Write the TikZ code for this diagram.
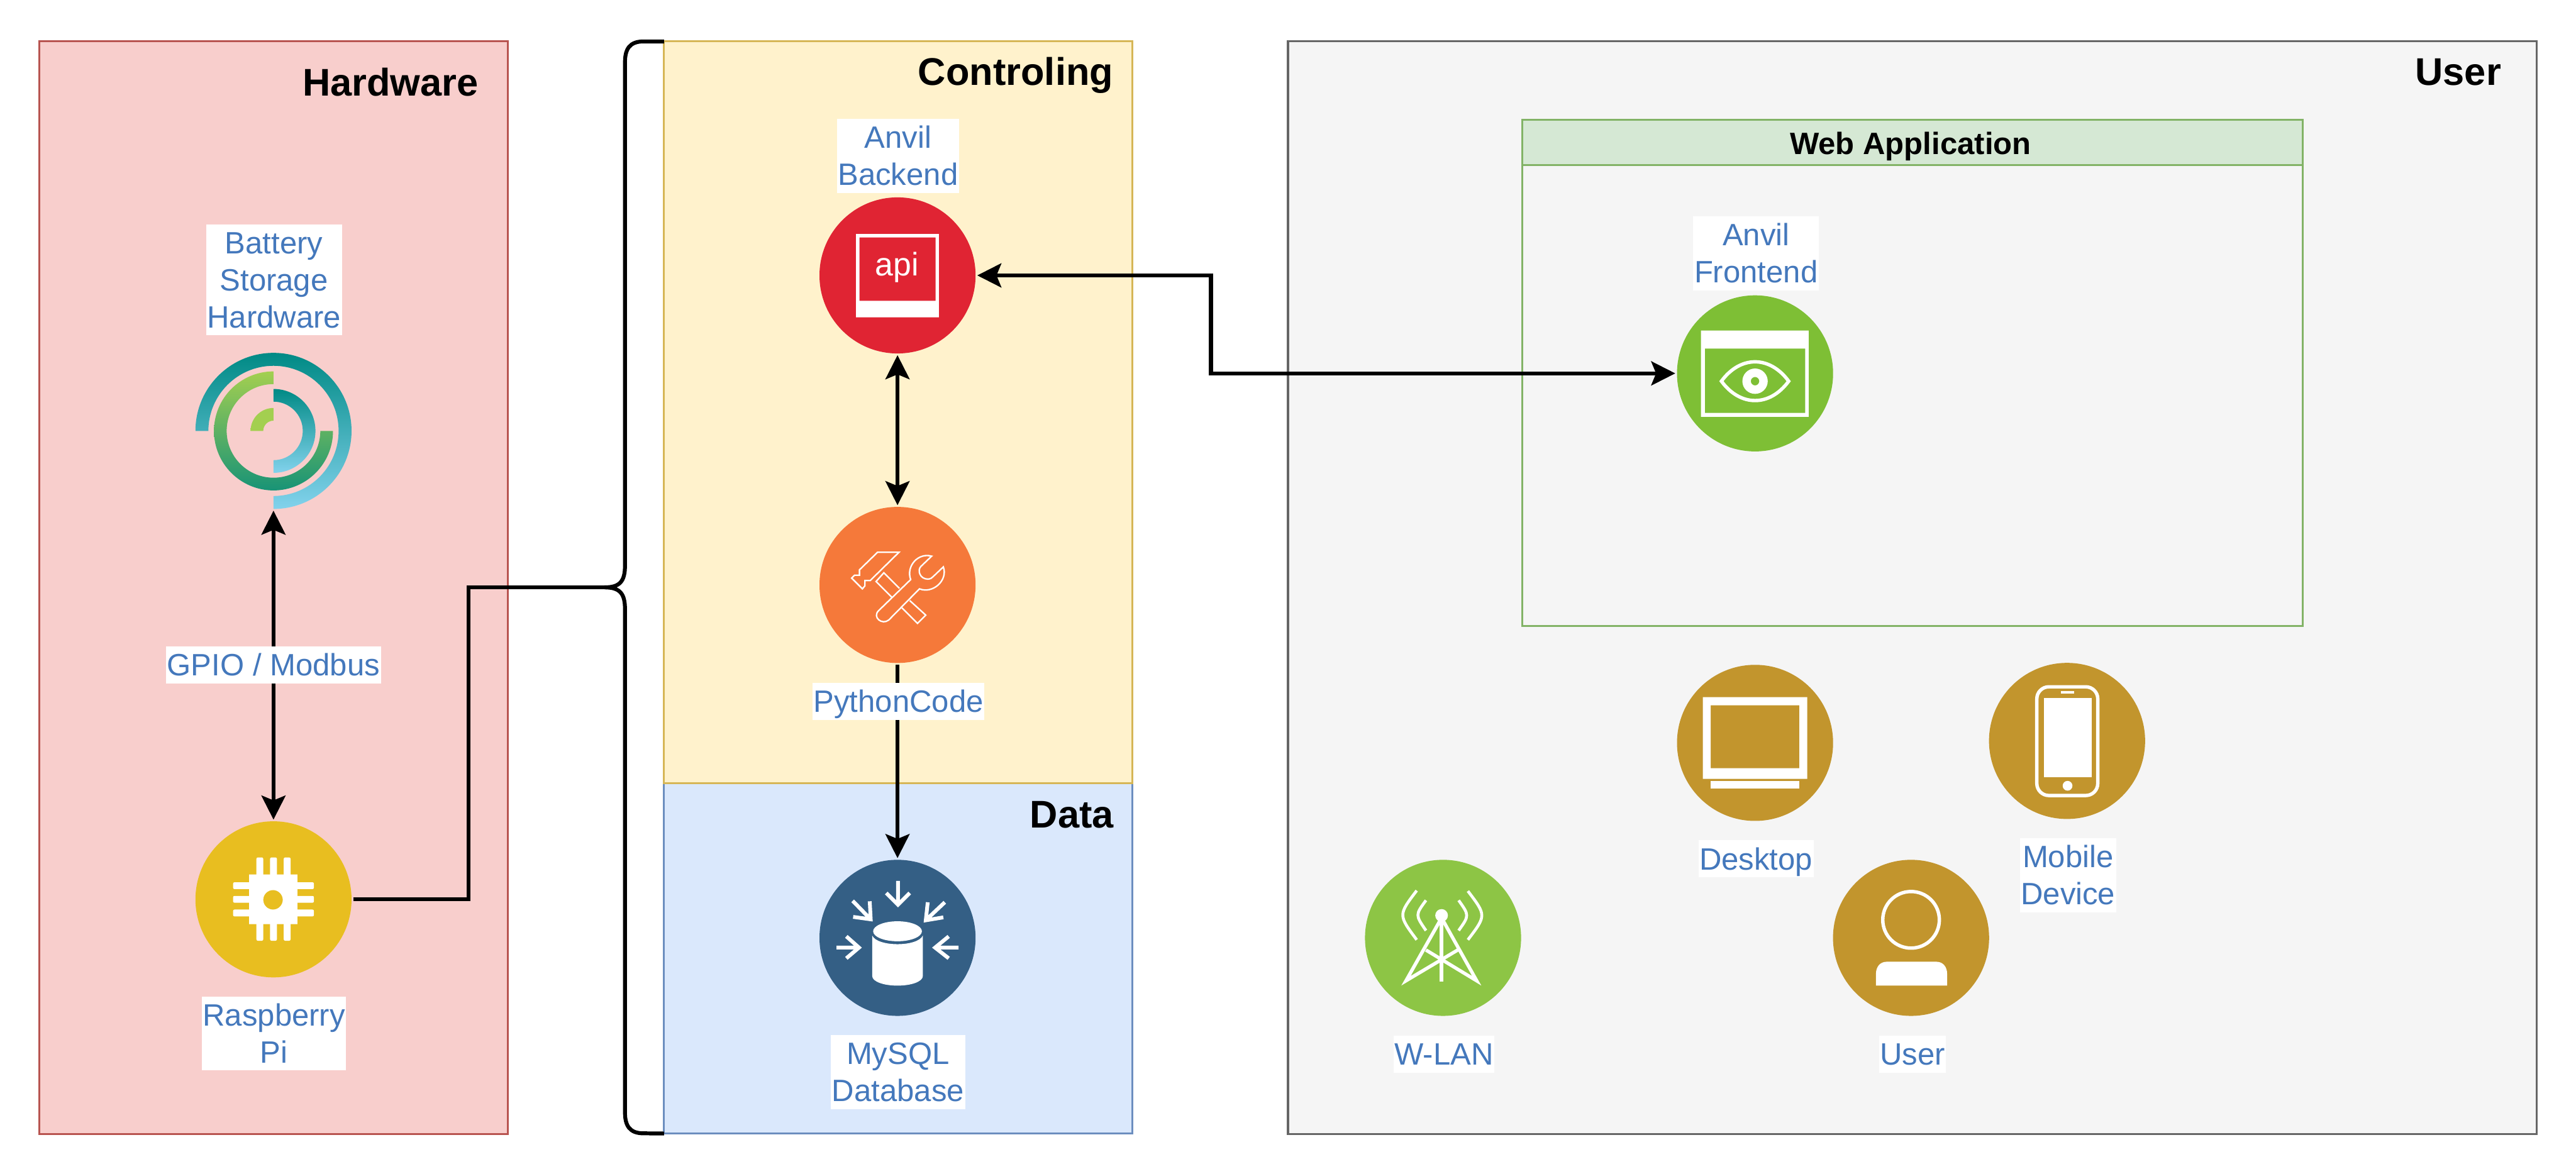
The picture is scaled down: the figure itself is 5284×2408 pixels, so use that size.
\documentclass[tikz,border=0pt]{standalone}
\usepackage{fontspec}
\setmainfont{Liberation Sans}
\usepackage{xcolor}
\usetikzlibrary{arrows.meta}

\definecolor{labelblue}{HTML}{4478BC}
\definecolor{hwfill}{HTML}{F8CECC}
\definecolor{hwline}{HTML}{B85450}
\definecolor{ctrlfill}{HTML}{FFF2CC}
\definecolor{ctrlline}{HTML}{D6B656}
\definecolor{datafill}{HTML}{DAE8FC}
\definecolor{dataline}{HTML}{6C8EBF}
\definecolor{userfill}{HTML}{F5F5F5}
\definecolor{userline}{HTML}{666666}
\definecolor{webfill}{HTML}{D5E8D4}
\definecolor{webline}{HTML}{82B366}
\definecolor{backendred}{HTML}{E02433}
\definecolor{pythonorange}{HTML}{F5793A}
\definecolor{mysqlblue}{HTML}{345F85}
\definecolor{piyellow}{HTML}{E8BE20}
\definecolor{frontgreen}{HTML}{7EBF35}
\definecolor{wlangreen}{HTML}{8DC545}
\definecolor{devicegold}{HTML}{C2952D}
\definecolor{ringteal}{HTML}{008A85}
\definecolor{ringsky}{HTML}{82D2EC}
\definecolor{ringlime}{HTML}{A3CF50}
\definecolor{ringdeep}{HTML}{189376}

\tikzset{
	panel/.style={draw, line width=1.14pt, anchor=north west, inner sep=0pt, outer sep=0pt},
	panelname/.style={anchor=east, inner sep=0pt, font=\fontsize{22.5}{27}\selectfont\bfseries},
	iconcircle/.style={circle, minimum size=3.2cm, inner sep=0pt, outer sep=1pt},
	iconlabel/.style={fill=white, text=labelblue, align=center, inner ysep=0pt, inner xsep=0.6pt, font=\fontsize{18}{21.6}\selectfont, execute at end node={\rule[-4.5pt]{0pt}{4.5pt}}},
	wire/.style={line width=2.28pt},
	biarrow/.style={wire, {Stealth[length=14pt, width=14pt, inset=2.8pt]}-{Stealth[length=14pt, width=14pt, inset=2.8pt]}},
	onearrow/.style={wire, -{Stealth[length=14pt, width=14pt, inset=2.8pt]}},
	thinwhite/.style={draw=white, line width=0.85pt, miter limit=6},
	midwhite/.style={draw=white, line width=2pt},
	dbarrow/.style={draw=white, line width=2.2pt}
}

% one shaded piece of the battery ring: start, end, outer radius, inner radius, colours
\newcommand{\ringpart}[6]{
	\path[top color=#5, bottom color=#6] (#1:#3) arc[start angle=#1, end angle=#2, radius=#3] -- (#2:#4) arc[start angle=#2, end angle=#1, radius=#4] -- cycle;
}
% room above the first line of a label
\newcommand{\labeltop}{\rule{0pt}{17.1pt}}

\begin{document}
\begin{tikzpicture}[x=0.01cm, y=-0.01cm]
	\useasboundingbox (0,0) rectangle (5284,2408);
	\fill[white] (0,0) rectangle (5284,2408);

	% Panels:
	\node[panel, fill=hwfill, draw=hwline, minimum width=9.6cm, minimum height=22.4cm](hardware) at (81,85){};
	\node[panel, fill=datafill, draw=dataline, minimum width=9.6cm, minimum height=7.19cm](data) at (1362,1606){};
	\node[panel, fill=ctrlfill, draw=ctrlline, minimum width=9.6cm, minimum height=15.21cm](controling) at (1362,85){};
	\node[panel, fill=userfill, draw=userline, minimum width=25.6cm, minimum height=22.4cm](user) at (2642,85){};
	\node[panel, draw=webline, minimum width=16cm, minimum height=10.38cm](webapp) at (3122,246){};
	\node[panel, fill=webfill, draw=webline, minimum width=16cm, minimum height=0.92cm](webhead) at (3122,246){};

	\node[panelname](hardwarename) at (982,168){Hardware};
	\node[panelname](controlingname) at (2284,155){Controling};
	\node[panelname](dataname) at (2285,1671){Data};
	\node[panelname](username) at (5131,148){User};
	\node[inner sep=0pt, font=\fontsize{18}{21.6}\selectfont\bfseries](webname) at (3919,300){Web Application};

	% Icon circles:
	\node[iconcircle](battery) at (561,884){};
	\node[iconcircle, fill=piyellow](pi) at (561,1845){};
	\node[iconcircle, fill=backendred](backend) at (1841,565){};
	\node[iconcircle, fill=pythonorange](python) at (1841,1200){};
	\node[iconcircle, fill=mysqlblue](mysql) at (1841,1924){};
	\node[iconcircle, fill=frontgreen](frontend) at (3600,766){};
	\node[iconcircle, fill=devicegold](desktop) at (3600,1524){};
	\node[iconcircle, fill=devicegold](mobile) at (4240,1520){};
	\node[iconcircle, fill=devicegold](person) at (3920,1924){};
	\node[iconcircle, fill=wlangreen](wlan) at (2960,1924){};

	% Battery rings
	\begin{scope}[shift={(battery.center)}]
		\ringpart{180}{-90}{1.6cm}{1.335cm}{ringteal}{ringsky}
		\ringpart{90}{360}{1.22cm}{0.96cm}{ringlime}{ringdeep}
		\ringpart{90}{-90}{0.86cm}{0.6cm}{ringteal}{ringsky}
		\ringpart{90}{180}{0.47cm}{0.21cm}{ringlime}{ringlime}
	\end{scope}

	% Chip
	\begin{scope}[shift={(pi.center)}]
		\fill[white, even odd rule] (-50,-51) rectangle (49,51) (-1,1) circle[radius=0.2cm];
		\foreach \p in {-28,0,28}{
			\fill[white, rounded corners=0.85pt] (\p-7,-86) rectangle (\p+7,-45);
			\fill[white, rounded corners=0.85pt] (\p-7,45) rectangle (\p+7,85);
			\fill[white, rounded corners=0.85pt] (-83,\p-7) rectangle (-45,\p+7);
			\fill[white, rounded corners=0.85pt] (45,\p-7) rectangle (83,\p+7);
		}
	\end{scope}

	% Api sheet
	\begin{scope}[shift={(backend.center)}]
		\fill[white, even odd rule] (-85,-85) rectangle (85,86) (-78,-78) rectangle (78,52);
		\node[text=white, inner sep=0pt, font=\fontsize{19}{22}\selectfont](apiname) at (-1,-17){api};
	\end{scope}

	% Hammer and wrench
	\begin{scope}[shift={(python.center)}]
		\path[thinwhite] (-41,-67) -- (3,-67) -- (-56,-9) -- (-67,-9) -- (-67,2) -- (-72,8) -- (-94,-14) -- (-88,-20) -- (-78,-20) -- (-78,-31) -- cycle;
		\path[thinwhite] (4,7) -- (-28,-25) -- (-44,-7) -- (-12,25);
		\path[thinwhite] (25,32) -- (58,62) -- (41,79) -- (9,47);
		\path[thinwhite] (27,-11) .. controls (17,-38) and (42,-67) .. (70,-59) -- (48,-38) .. controls (40,-30) and (46,-12) .. (62,-12) .. controls (68,-12) and (71,-15) .. (73,-17) -- (94,-37) .. controls (104,-10) and (73,19) .. (45,8) -- (-18,72) .. controls (-32,83) and (-52,66) .. (-39,53) -- cycle;
	\end{scope}

	% Database
	\begin{scope}[shift={(mysql.center)}]
		\fill[white] (0,-13.5) ellipse[x radius=0.5cm, y radius=0.205cm];
		\fill[white] (-52,-5) .. controls (-42,19) and (42,19) .. (52,-5) -- (52,78) .. controls (52,90) and (28,98) .. (0,98) .. controls (-28,98) and (-52,90) .. (-52,78) -- cycle;
		\path[dbarrow] (1,-117) -- (1,-70) (-23,-92) -- (1,-68) -- (25,-92);
		\path[dbarrow] (-92,-76) -- (-58,-41) (-91,-43) -- (-55,-38) -- (-57,-75);
		\path[dbarrow] (97,-73) -- (61,-39) (94,-42) -- (58,-36) -- (62,-73);
		\path[dbarrow] (-125,20) -- (-80,20) (-105,-3) -- (-79,20) -- (-105,42);
		\path[dbarrow] (125,20) -- (80,20) (105,-3) -- (77,20) -- (105,42);
	\end{scope}

	% Frontend window and eye
	\begin{scope}[shift={(frontend.center)}]
		\fill[white, even odd rule] (-111,-88) rectangle (110,89) (-103,-51) rectangle (103,81);
		\path[midwhite] (-69,16) .. controls (-30,-37) and (30,-37) .. (69,16) .. controls (30,69) and (-30,69) .. (-69,16) -- cycle;
		\fill[white, even odd rule] (0,16) circle[radius=0.26cm] (0,16) circle[radius=0.087cm];
	\end{scope}

	% Desktop
	\begin{scope}[shift={(desktop.center)}]
		\fill[white, even odd rule] (-107,-94) rectangle (107,74) (-91,-77) rectangle (91,52);
		\fill[white] (-91,78) rectangle (91,94);
	\end{scope}

	% Mobile
	\begin{scope}[shift={(mobile.center)}]
		\draw[midwhite, rounded corners=7pt] (-62,-111) rectangle (63,112);
		\fill[white] (-48,-88) rectangle (50,74);
		\fill[white] (-12,-102) rectangle (14,-97);
		\fill[white] (1,92) circle[radius=0.1cm];
	\end{scope}

	% Person
	\begin{scope}[shift={(person.center)}]
		\draw[midwhite] (0,-37) circle[radius=0.58cm];
		\fill[white] (-72,98) -- (-72,74) .. controls (-72,60) and (-64,49) .. (-50,49) -- (52,49) .. controls (66,49) and (74,60) .. (74,74) -- (74,98) -- cycle;
	\end{scope}

	% Antenna
	\begin{scope}[shift={(wlan.center)}]
		\fill[white] (-3,-46) circle[radius=0.13cm];
		\path[midwhite] (-3,-44) -- (-3,90);
		\path[midwhite, miter limit=10] (-35,25) -- (69,88) -- (-3,-41) -- (-76,88) -- (30,25);
		\path[midwhite, line width=1.7pt] (-35,-77) .. controls (-57,-47) .. (-35,-15);
		\path[midwhite, line width=1.7pt] (-54,-97) .. controls (-92,-47) .. (-54,4);
		\path[midwhite, line width=1.7pt] (32,-77) .. controls (54,-46) .. (32,-15);
		\path[midwhite, line width=1.7pt] (51,-96) .. controls (89,-46) .. (51,4);
	\end{scope}

	% Paths and wires:
	\coordinate (bracetip) at (1240,1205);
	\coordinate (pikink) at (961,1500);
	\coordinate (userkink) at (2484,700);
	\draw[biarrow] (battery) -- node[midway, iconlabel](gpio){\labeltop GPIO / Modbus} (pi);
	\draw[biarrow] (backend) -- (python);
	\draw[onearrow] (python) -- (mysql);
	\draw[biarrow] (backend.east) -| (userkink) |- (frontend.west);
	\draw[wire] (pi.east) -| (pikink) |- (bracetip);
	\draw[wire] (controling.north west) -- (1320,85) .. controls (1292,85) and (1282,100) .. (1282,128) -- (1282,1160) .. controls (1282,1192) and (1272,1205) .. (bracetip) .. controls (1272,1205) and (1282,1218) .. (1282,1250) -- (1282,2282) .. controls (1282,2310) and (1292,2325) .. (1320,2325) -- (data.south west);

	% Labels:
	\node[iconlabel](batteryname) at (562,574){\labeltop Battery\\Storage\\Hardware};
	\node[iconlabel](piname) at (562,2120){\labeltop Raspberry\\Pi};
	\node[iconlabel](backendname) at (1842,320){\labeltop Anvil\\Backend};
	\node[iconlabel](pythonname) at (1843,1439){\labeltop PythonCode};
	\node[iconlabel](mysqlname) at (1842,2199){\labeltop MySQL\\Database};
	\node[iconlabel](frontendname) at (3602,520){\labeltop Anvil\\Frontend};
	\node[iconlabel](desktopname) at (3602,1762){\labeltop Desktop};
	\node[iconlabel](mobilename) at (4242,1796){\labeltop Mobile\\Device};
	\node[iconlabel](personname) at (3923,2163){\labeltop User};
	\node[iconlabel](wlanname) at (2962,2163){\labeltop W-LAN};
\end{tikzpicture}
\end{document}
